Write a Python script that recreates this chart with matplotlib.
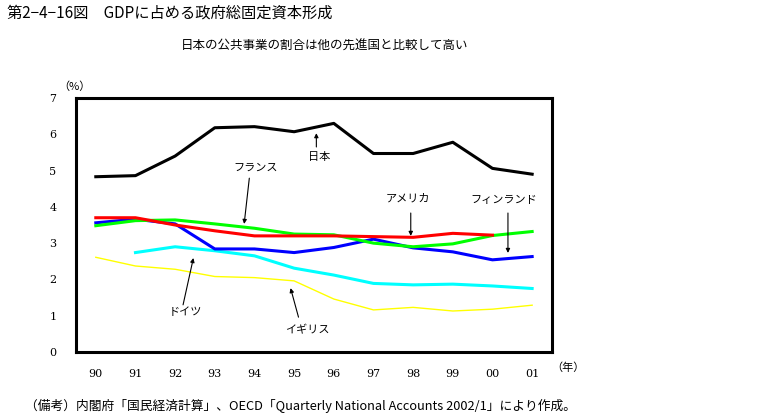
import matplotlib.pyplot as plt

plt.rcParams['font.family'] = ['Noto Sans CJK JP', 'DejaVu Sans']

# Data (share of GDP, %)
years = ['90', '91', '92', '93', '94', '95', '96', '97', '98', '99', '00', '01']
japan   = [4.83, 4.86, 5.40, 6.18, 6.21, 6.07, 6.30, 5.47, 5.47, 5.78, 5.06, 4.90]
usa     = [3.70, 3.70, 3.50, 3.34, 3.20, 3.20, 3.20, 3.18, 3.16, 3.27, 3.22, None]
france  = [3.48, 3.62, 3.64, 3.53, 3.41, 3.25, 3.23, 3.00, 2.90, 2.98, 3.21, 3.32]
finland = [3.56, 3.66, 3.53, 2.84, 2.84, 2.74, 2.88, 3.11, 2.87, 2.76, 2.54, 2.63]
germany = [None, 2.74, 2.90, 2.79, 2.65, 2.31, 2.12, 1.89, 1.85, 1.87, 1.82, 1.75]
uk      = [2.61, 2.37, 2.28, 2.08, 2.05, 1.96, 1.46, 1.16, 1.23, 1.13, 1.18, 1.29]


def to_xy(values):
    xs = [i for i, v in enumerate(values) if v is not None]
    ys = [v for v in values if v is not None]
    return xs, ys


fig = plt.figure(figsize=(7.72, 4.15), dpi=100)
ax = fig.add_axes([0.0984, 0.1518, 0.6166, 0.6121])

# series lines
ax.plot(*to_xy(uk), color='#FFFF00', lw=1.0)
ax.plot(*to_xy(germany), color='#00FFFF', lw=2.2)
ax.plot(*to_xy(finland), color='#0000FF', lw=2.2)
ax.plot(*to_xy(france), color='#00FF00', lw=2.2)
ax.plot(*to_xy(usa), color='#FF0000', lw=2.2)
ax.plot(*to_xy(japan), color='black', lw=2.2)

ax.set_xlim(-0.5, len(years) - 0.5)
ax.set_ylim(0, 7)
ax.set_xticks(range(len(years)))
ax.set_xticklabels(years)
ax.set_yticks(range(0, 8))
ax.tick_params(length=0, labelsize=8)
ax.tick_params(axis='x', pad=12)
ax.tick_params(axis='y', pad=14)
for lbl in ax.get_xticklabels() + ax.get_yticklabels():
    lbl.set_family('DejaVu Serif')
for s in ax.spines.values():
    s.set_linewidth(2.2)

# labels with arrows
labels = [
    ('日本',         (5.64, 5.37), (5.56, 5.65), (5.56, 6.03)),
    ('フランス',     (4.02, 5.07), (3.87, 4.79), (3.74, 3.53)),
    ('アメリカ',     (7.86, 4.24), (7.94, 3.83), (7.94, 3.20)),
    ('フィンランド', (10.28, 4.19), (10.39, 3.83), (10.39, 2.73)),
    ('ドイツ',       (2.25, 1.10), (2.20, 1.30), (2.46, 2.59)),
    ('イギリス',     (5.34, 0.61), (5.11, 0.96), (4.91, 1.76)),
]
for name, txt, tail, tip in labels:
    ax.text(txt[0], txt[1], name, fontsize=8, ha='center', va='center')
    ax.annotate('', xy=tip, xytext=tail,
                arrowprops=dict(arrowstyle='-|>', color='black', lw=0.8,
                                mutation_scale=6, shrinkA=0, shrinkB=0))

ax.text(-0.55, 7.32, '（%）', fontsize=8, ha='center', va='center')
ax.text(11.9, -0.42, '（年）', fontsize=8, ha='center', va='center', clip_on=False)

fig.text(7 / 772, 1 - 13 / 415, '第2−4−16図　GDPに占める政府総固定資本形成',
         fontsize=11, ha='left', va='center')
fig.text(325 / 772, 1 - 46 / 415, '日本の公共事業の割合は他の先進国と比較して高い',
         fontsize=9, ha='center', va='center')
fig.text(25 / 772, 1 - 406 / 415,
         '（備考）内閣府「国民経済計算」、OECD「Quarterly National Accounts 2002/1」により作成。',
         fontsize=9.2, ha='left', va='center')

fig.savefig('out.png', dpi=100)
